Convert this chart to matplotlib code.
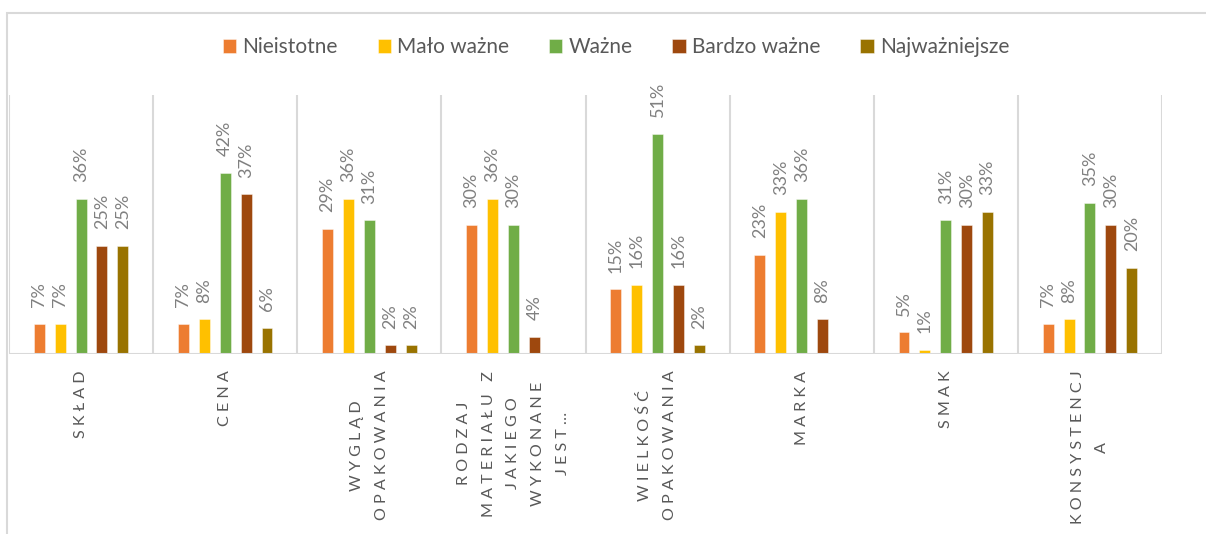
import matplotlib
matplotlib.use('Agg')
import matplotlib.pyplot as plt
import matplotlib.patches as mpatches
import numpy as np

plt.rcParams['font.family'] = ['Lato', 'DejaVu Sans']

# dane z ankiety (w procentach)
kategorie = ['SKŁAD', 'CENA', 'WYGLĄD\nOPAKOWANIA',
             'RODZAJ\nMATERIAŁU Z\nJAKIEGO\nWYKONANE\nJEST…',
             'WIELKOŚĆ\nOPAKOWANIA', 'MARKA', 'SMAK', 'KONSYSTENCJ\nA']
serie = ['Nieistotne', 'Mało ważne', 'Ważne', 'Bardzo ważne', 'Najważniejsze']
nieistotne = [7, 7, 29, 30, 15, 23, 5, 7]
malo_wazne = [7, 8, 36, 36, 16, 33, 1, 8]
wazne = [36, 42, 31, 30, 51, 36, 31, 35]
bardzo_wazne = [25, 37, 2, 4, 16, 8, 30, 30]
najwazniejsze = [25, 6, 2, np.nan, 2, np.nan, 33, 20]
kolory = ['#ED7D31', '#FFC000', '#70AD47', '#9E480E', '#997300']

W, H = 1206, 534
fig = plt.figure(figsize=(W / 100, H / 100), dpi=100)

# ramka wykresu (przycięta z prawej i od dołu)
fig.patches.append(mpatches.Rectangle((7 / W, -0.1), 1.2, 1.1 - 13 / H,
                                      transform=fig.transFigure, fill=False,
                                      edgecolor='#d9d9d9', linewidth=1.5))

ax = fig.add_axes([9 / W, 1 - 354 / H, (1162 - 9) / W, (354 - 95) / H])
x = np.arange(len(kategorie))
ax.set_xlim(-0.5, len(kategorie) - 0.5)
ax.set_ylim(0, 60)

krok = 0.145
szer = 0.076
uchwyty = []
for i, (nazwa, dane) in enumerate(zip(serie, [nieistotne, malo_wazne, wazne,
                                               bardzo_wazne, najwazniejsze])):
    dane = np.array(dane, dtype=float)
    pos = x + (i - 2) * krok
    b = ax.bar(pos, np.nan_to_num(dane), width=szer, color=kolory[i],
               edgecolor=(1, 1, 1, 0.5), linewidth=0.6, label=nazwa, zorder=3)
    uchwyty.append(b)
    for px, v in zip(pos, dane):
        if np.isnan(v):
            continue
        ax.annotate(f'{int(v)}%', (px, v), xytext=(0, 12),
                    textcoords='offset points', rotation=90, ha='center',
                    va='bottom', color='#808080', fontsize=13)

# linie oddzielające kategorie
for k in range(len(kategorie) + 1):
    ax.axvline(k - 0.5, color='#d9d9d9', linewidth=1.5, zorder=1)
ax.axhline(0, color='#d9d9d9', linewidth=1.5, zorder=4)

for s in ax.spines.values():
    s.set_visible(False)
ax.set_xticks([])
ax.set_yticks([])


def rozstaw(tekst):
    linie = []
    for linia in tekst.split('\n'):
        slowa = [' '.join(w) for w in linia.split(' ')]
        linie.append('   '.join(slowa))
    return '\n'.join(linie)


for xi, k in zip(x, kategorie):
    ax.annotate(rozstaw(k), (xi, 0), xytext=(0, -12),
                textcoords='offset points', rotation=90, ha='center',
                va='top', multialignment='center', color='#595959',
                fontsize=11.6, linespacing=1.98)

fig.legend(handles=uchwyty, loc='center', bbox_to_anchor=(616 / W, 1 - 47 / H),
           ncol=5, frameon=False, fontsize=15, labelcolor='#595959',
           handlelength=0.65, handleheight=0.65, handletextpad=0.3,
           columnspacing=1.9)

fig.savefig('out.png', dpi=100)
